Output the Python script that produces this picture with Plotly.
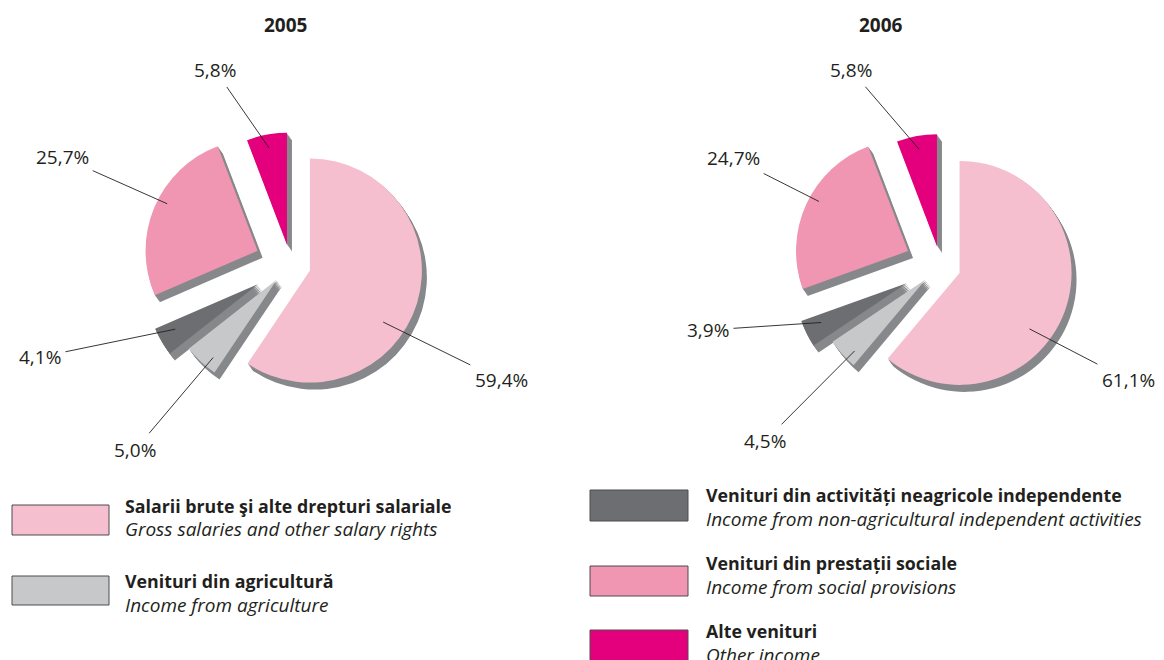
import math
import plotly.graph_objects as go

# ---------------- data ----------------
years = ["2005", "2006"]
categories_ro = [
    "Salarii brute şi alte drepturi salariale",
    "Venituri din agricultură",
    "Venituri din activități neagricole independente",
    "Venituri din prestații sociale",
    "Alte venituri",
]
categories_en = [
    "Gross salaries and other salary rights",
    "Income from agriculture",
    "Income from non-agricultural independent activities",
    "Income from social provisions",
    "Other income",
]
values_2005 = [59.4, 5.0, 4.1, 25.7, 5.8]
values_2006 = [61.1, 4.5, 3.9, 24.7, 5.8]
colors = ["#f5bfd0", "#c7c8ca", "#6d6e71", "#f095b2", "#e4007c"]

# ---------------- layout / style ----------------
OFF = 8                      # page body margin of the html page
W, H = 1164 - OFF, 660 - OFF  # figure size so that it fills the window
FONT = "Open Sans"
TXT = "#231f20"
SHADOW = "#87888b"
pulls = [0.18, 0.18, 0.34, 0.32, 0.18]
R = 112  # pie radius in px
centers = {"2005": (290.6, 264.7), "2006": (940.6, 266.0)}
# text centre positions (window px) of the value labels, per year, per slice
label_pos = {
    "2005": [(501, 380), (135, 450), (40, 357), (62, 157), (215, 70)],
    "2006": [(1128, 380), (765, 441), (708, 330), (733, 158), (851, 70)],
}
# where inside each slice the leader line ends: (fraction of angle span, fraction of radius)
anchor_frac = [(0.585, 0.80), (0.30, 0.90), (0.65, 0.84), (0.55, 0.91), (0.5, 0.88)]
title_pos = {"2005": 285, "2006": 881}
values_by_year = {"2005": values_2005, "2006": values_2006}


def px2paper(x, y):
    return (x - OFF) / W, 1 - (y - OFF) / H


def fmt(v):
    return f"{v:.1f}".replace(".", ",") + "%"


fig = go.Figure()
annotations = []
maxpull = max(pulls)
half = R * (1 + maxpull)

for yr in years:
    vals = values_by_year[yr]
    cx, cy = centers[yr]
    # shadow copies (extrusion)
    n_sh = 6
    for k in range(n_sh, 0, -1):
        ox, oy = 5.0 * k / n_sh, 7.0 * k / n_sh
        x0, y0 = px2paper(cx - half + ox, cy + half + oy)
        x1, y1 = px2paper(cx + half + ox, cy - half + oy)
        fig.add_trace(go.Pie(
            values=vals, labels=categories_ro, sort=False, direction="clockwise",
            rotation=0, pull=pulls, textinfo="none", hoverinfo="skip",
            marker=dict(colors=[SHADOW] * len(vals), line=dict(width=0)),
            domain=dict(x=[x0, x1], y=[y0, y1]), showlegend=False,
        ))
    x0, y0 = px2paper(cx - half, cy + half)
    x1, y1 = px2paper(cx + half, cy - half)
    fig.add_trace(go.Pie(
        values=vals, labels=categories_ro, sort=False, direction="clockwise",
        rotation=0, pull=pulls, textinfo="none",
        marker=dict(colors=colors, line=dict(width=0)),
        domain=dict(x=[x0, x1], y=[y0, y1]), showlegend=False,
        name=yr,
    ))
    # value labels with leader lines
    total = sum(vals)
    a0 = 0.0
    for i, v in enumerate(vals):
        a1 = a0 + 360.0 * v / total
        mid = math.radians((a0 + a1) / 2)
        apx = cx + pulls[i] * R * math.sin(mid)
        apy = cy - pulls[i] * R * math.cos(mid)
        fa, fr = anchor_frac[i]
        ang = math.radians(a0 + fa * (a1 - a0))
        axp = apx + fr * R * math.sin(ang)
        ayp = apy - fr * R * math.cos(ang)
        tx, ty = label_pos[yr][i]
        px_, py_ = px2paper(axp, ayp)
        annotations.append(dict(
            x=px_, y=py_, xref="paper", yref="paper",
            ax=tx - axp, ay=ty - ayp, axref="pixel", ayref="pixel",
            text=fmt(v), showarrow=True, arrowhead=0, arrowwidth=0.9,
            arrowcolor=TXT, standoff=0, startstandoff=3,
            font=dict(family=FONT, size=19, color=TXT),
        ))
        a0 = a1
    # year title
    tx, ty = px2paper(title_pos[yr], 25)
    annotations.append(dict(
        x=tx, y=ty, xref="paper", yref="paper", showarrow=False,
        text=f"<b>{yr}</b>", font=dict(family=FONT, size=19, color=TXT),
        xanchor="center", yanchor="middle",
    ))

# ---------------- custom legend ----------------
legend_layout = [
    # (box x0, box x1, box y0, box y1, text x, bold y, italic y)
    (12, 109, 505, 535, 125, 506, 529),
    (12, 109, 576, 605, 125, 581, 605),
    (590, 688, 490, 521, 706, 495, 519),
    (590, 688, 566, 596, 706, 563, 587),
    (590, 688, 630, 661, 706, 631, 655),
]
shapes = []
for i, (bx0, bx1, by0, by1, tx, yb, yi) in enumerate(legend_layout):
    x0, y0 = px2paper(bx0, by1)
    x1, y1 = px2paper(bx1, by0)
    shapes.append(dict(type="rect", xref="paper", yref="paper", x0=x0, x1=x1,
                       y0=y0, y1=y1, fillcolor=colors[i],
                       line=dict(color="#4d4d4f", width=1)))
    xa, ya = px2paper(tx - 2, yb)
    annotations.append(dict(x=xa, y=ya, xref="paper", yref="paper", showarrow=False,
                            text=f"<b>{categories_ro[i]}</b>", xanchor="left",
                            yanchor="middle",
                            font=dict(family=FONT, size=17.8, color=TXT)))
    xa, ya = px2paper(tx - 2, yi)
    annotations.append(dict(x=xa, y=ya, xref="paper", yref="paper", showarrow=False,
                            text=f"<i>{categories_en[i]}</i>", xanchor="left",
                            yanchor="middle",
                            font=dict(family=FONT, size=19, color=TXT)))

fig.update_layout(
    width=W, height=H, margin=dict(l=0, r=0, t=0, b=0),
    paper_bgcolor="white", plot_bgcolor="white",
    showlegend=False, annotations=annotations, shapes=shapes,
)
fig.write_html("out.html")
